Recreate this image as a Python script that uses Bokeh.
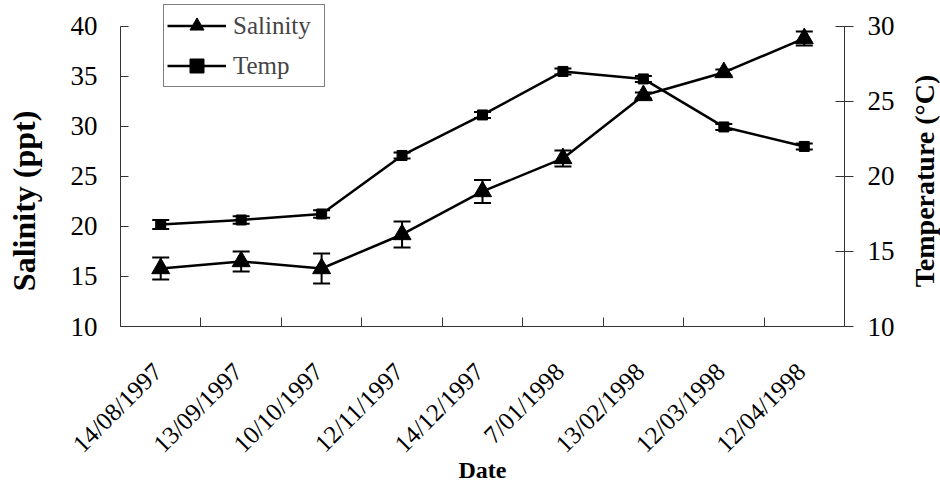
import math
from bokeh.plotting import figure
from bokeh.layouts import row
from bokeh.models import (Range1d, LinearAxis, FixedTicker, ColumnDataSource, Whisker,
                          TeeHead, Legend, LegendItem)
from bokeh.core.properties import value
from bokeh.embed import file_html
from bokeh.resources import INLINE

dates = ["14/08/1997", "13/09/1997", "10/10/1997", "12/11/1997", "14/12/1997",
         "7/01/1998", "13/02/1998", "12/03/1998", "12/04/1998"]
salinity = [15.8, 16.5, 15.8, 19.2, 23.5, 26.8, 33.1, 35.4, 38.8]
salinity_err = [1.1, 1.0, 1.5, 1.3, 1.15, 0.8, 0.3, 0.3, 0.7]
temp = [16.8, 17.1, 17.5, 21.4, 24.1, 27.0, 26.5, 23.3, 22.0]
temp_err = [0.3, 0.25, 0.25, 0.2, 0.2, 0.2, 0.2, 0.2, 0.2]
sal_ticks = [10, 15, 20, 25, 30, 35, 40]
temp_ticks = [10, 15, 20, 25, 30]
left_title = "Salinity (ppt)"
right_title = "Temperature (°C)"

FONT = "Liberation Serif"
n = len(dates)
xpos = [i + 0.5 for i in range(n)]

# layout (pixels)
H = 486
W_LT, W_RT = 48, 40                 # side strips holding the axis titles
W = 940 - W_LT - W_RT               # main plot
FL, FR, FB = 120 - W_LT, (940 - W_RT) - 844, 159
TOP_PAD = 26                        # frame space above the top tick (legend room)
FRAME_H = H - FB
AX_H = FRAME_H - TOP_PAD

sal_lo_v, sal_hi_v = sal_ticks[0], sal_ticks[-1]
tmp_lo_v, tmp_hi_v = temp_ticks[0], temp_ticks[-1]
y_end = sal_hi_v + TOP_PAD * (sal_hi_v - sal_lo_v) / AX_H
t_end = tmp_hi_v + TOP_PAD * (tmp_hi_v - tmp_lo_v) / AX_H

src = ColumnDataSource(dict(
    x=xpos, sal=salinity,
    sal_lo=[v - e for v, e in zip(salinity, salinity_err)],
    sal_hi=[v + e for v, e in zip(salinity, salinity_err)],
    temp=temp,
    temp_lo=[v - e for v, e in zip(temp, temp_err)],
    temp_hi=[v + e for v, e in zip(temp, temp_err)],
))

p = figure(width=W, height=H, output_backend="svg", toolbar_location=None,
           x_range=Range1d(0, n), y_range=Range1d(sal_lo_v, y_end),
           min_border_left=FL, min_border_right=FR, min_border_top=0, min_border_bottom=FB)
p.extra_y_ranges = {"temp": Range1d(tmp_lo_v, t_end)}
p.xgrid.visible = False
p.ygrid.visible = False
p.outline_line_color = None
p.background_fill_color = "white"
p.border_fill_color = "white"

axis_color = "#333333"

# bottom axis: ticks between categories, labels under each category
label_shift = 0.04
label_pos = [x - label_shift for x in xpos]
xa = p.xaxis[0]
xa.ticker = FixedTicker(ticks=label_pos, minor_ticks=list(range(n + 1)))
xa.major_label_overrides = {x: d for x, d in zip(label_pos, dates)}
xa.major_tick_in = 0
xa.major_tick_out = 0
xa.major_tick_line_color = None
xa.minor_tick_in = 9
xa.minor_tick_out = 0
xa.minor_tick_line_color = axis_color
xa.axis_line_color = axis_color
xa.major_label_orientation = math.pi / 4
xa.major_label_standoff = 41
xa.major_label_text_font = FONT
xa.major_label_text_font_size = "25px"
xa.major_label_text_color = "black"
xa.axis_label = "Date"
xa.axis_label_text_font = FONT
xa.axis_label_text_font_style = "bold"
xa.axis_label_text_font_size = "24px"
xa.axis_label_text_color = "black"
xa.axis_label_standoff = -13

# left axis
ya = p.yaxis[0]
ya.ticker = FixedTicker(ticks=sal_ticks)
ya.bounds = (sal_lo_v, sal_hi_v)
ya.major_tick_in = 8
ya.major_tick_out = 0
ya.minor_tick_line_color = None
ya.axis_line_color = axis_color
ya.major_tick_line_color = axis_color
ya.major_label_standoff = 23
ya.major_label_text_font = FONT
ya.major_label_text_font_size = "27px"
ya.major_label_text_color = "black"

# right axis
ra = LinearAxis(y_range_name="temp", ticker=FixedTicker(ticks=temp_ticks))
ra.bounds = (tmp_lo_v, tmp_hi_v)
ra.major_tick_in = 9
ra.major_tick_out = 9
ra.minor_tick_line_color = None
ra.axis_line_color = axis_color
ra.major_tick_line_color = axis_color
ra.major_label_standoff = 14
ra.major_label_text_font = FONT
ra.major_label_text_font_size = "27px"
ra.major_label_text_color = "black"
p.add_layout(ra, "right")

# series
sal_line = p.line("x", "sal", source=src, line_color="black", line_width=2.5)
sal_mark = p.scatter("x", "sal", source=src, marker="triangle", size=18,
                     fill_color="black", line_color="black")
tmp_line = p.line("x", "temp", source=src, line_color="black", line_width=2.5,
                  y_range_name="temp")
tmp_mark = p.scatter("x", "temp", source=src, marker="square", size=10,
                     fill_color="black", line_color="black", y_range_name="temp")

p.add_layout(Whisker(base="x", lower="sal_lo", upper="sal_hi", source=src,
                     line_color="black", line_width=2,
                     upper_head=TeeHead(size=17, line_width=2, line_color="black"),
                     lower_head=TeeHead(size=17, line_width=2, line_color="black")))
p.add_layout(Whisker(base="x", lower="temp_lo", upper="temp_hi", source=src,
                     y_range_name="temp", line_color="black", line_width=2,
                     upper_head=TeeHead(size=17, line_width=2, line_color="black"),
                     lower_head=TeeHead(size=17, line_width=2, line_color="black")))

LEG_PAD, LEG_ROW, LEG_SP = 3, 35, 5
LEG_H = 2 * LEG_PAD + 2 * LEG_ROW + LEG_SP
LEG_TOP = 7
legend = Legend(items=[LegendItem(label="Salinity", renderers=[sal_line, sal_mark]),
                       LegendItem(label="Temp", renderers=[tmp_line, tmp_mark])],
                location=(43, FRAME_H - LEG_TOP - LEG_H), orientation="vertical",
                label_text_font=FONT, label_text_font_size="25px",
                glyph_width=59, glyph_height=LEG_ROW, label_height=LEG_ROW, label_width=88,
                label_standoff=7, spacing=LEG_SP, padding=LEG_PAD, margin=0,
                border_line_color="black", border_line_width=1,
                background_fill_color="white", background_fill_alpha=1.0)
p.add_layout(legend)


def title_strip(width, cx, cy, text, size):
    """Narrow figure carrying a vertical (bottom-to-top) axis title.
    Its frame is aligned with the main frame (top 0, height FRAME_H), so the
    y range is expressed as pixels from the canvas bottom."""
    f = figure(width=width, height=H, output_backend="svg", toolbar_location=None,
               x_range=Range1d(0, width), y_range=Range1d(H - FRAME_H, H),
               x_axis_location=None, y_axis_location=None,
               min_border=0, min_border_left=0, min_border_right=0,
               min_border_top=0, min_border_bottom=FB)
    f.grid.visible = False
    f.outline_line_color = None
    f.background_fill_color = "white"
    f.border_fill_color = "white"
    f.text(x=[cx], y=[H - cy], text=[text], angle=math.pi / 2,
           text_align="center", text_baseline="middle",
           text_font=value(FONT), text_font_size=value(size),
           text_font_style=value("bold"), text_color="black")
    return f


lt = title_strip(W_LT, 23, 201, left_title, "32px")
rt = title_strip(W_RT, 924 - (940 - W_RT), 181, right_title, "28px")

layout = row(lt, p, rt, spacing=0)
open("out.html", "w").write(file_html(layout, INLINE))
